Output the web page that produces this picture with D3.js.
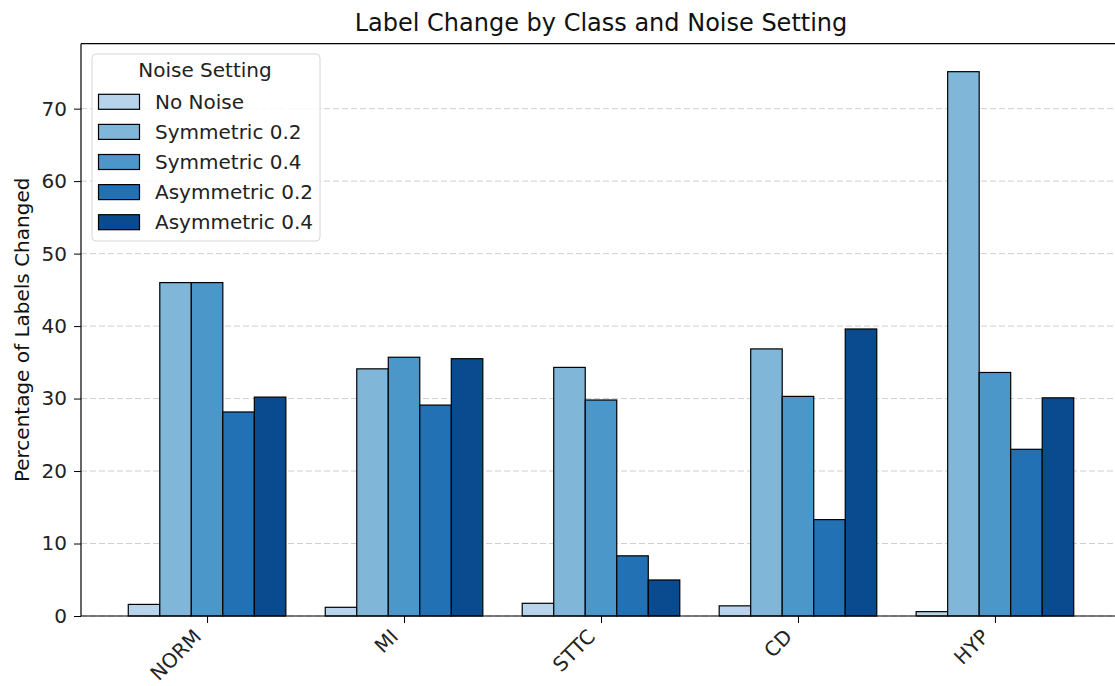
<!DOCTYPE html>
<html><head><meta charset="utf-8">
<script src="https://cdn.jsdelivr.net/npm/d3@7"></script>
<style>body{margin:0;background:#fff;} svg{display:block;font-family:"DejaVu Sans",sans-serif;}</style>
</head><body><svg id="c" width="1115" height="686"></svg>
<script>
const categories = ["NORM","MI","STTC","CD","HYP"];
const seriesNames = ["No Noise","Symmetric 0.2","Symmetric 0.4","Asymmetric 0.2","Asymmetric 0.4"];
const noNoise   = [1.6, 1.2, 1.75, 1.4, 0.6];
const sym02     = [46.0, 34.1, 34.3, 36.85, 75.1];
const sym04     = [46.0, 35.7, 29.8, 30.3, 33.6];
const asym02    = [28.15, 29.1, 8.3, 13.3, 23.0];
const asym04    = [30.2, 35.5, 4.97, 39.6, 30.1];
const yTicks = [0,10,20,30,40,50,60,70];
const colors = ["#b7d4ea","#80b7d9","#4b97c9","#2271b5","#0a4a8f"];
const series = [noNoise, sym02, sym04, asym02, asym04];

const svg = d3.select("#c");
const L = 81, R = 1121, T = 43.7, B = 616;
const barW = 0.16;
const x = d3.scaleLinear().domain([-0.64, 4.64]).range([L, R]);
const y = d3.scaleLinear().domain([0, 78.96]).range([B, T]);

// grid
svg.append("g").selectAll("line").data(yTicks).join("line")
  .attr("x1", L).attr("x2", R).attr("y1", d=>y(d)).attr("y2", d=>y(d))
  .attr("stroke", "#cfcfcf").attr("stroke-width", 1).attr("stroke-dasharray", "6,3");

// bars
series.forEach((vals, si) => {
  svg.append("g").selectAll("rect").data(vals).join("rect")
    .attr("x", (d,i)=> x(i + (si-2)*barW - barW/2))
    .attr("width", x(barW) - x(0))
    .attr("y", d=>y(d)).attr("height", d=>y(0)-y(d))
    .attr("fill", colors[si]).attr("stroke", "#000").attr("stroke-width", 1.2);
});

// axes
const ya = svg.append("g").attr("transform", `translate(${L},0)`)
  .call(d3.axisLeft(y).tickValues(yTicks).tickSize(7).tickPadding(7).tickFormat(d3.format("d")));
const xa = svg.append("g").attr("transform", `translate(0,${B})`)
  .call(d3.axisBottom(x).tickValues(d3.range(categories.length)).tickSize(7).tickFormat(i=>categories[i]));
[ya, xa].forEach(g => { g.select(".domain").remove(); g.selectAll("text").attr("font-size", 20).attr("fill","#222").attr("font-family","DejaVu Sans"); g.selectAll("line").attr("stroke","#000"); });
xa.selectAll("text").attr("text-anchor","end").attr("dy", null).attr("y", null)
  .attr("transform","translate(-9,18) rotate(-45)").attr("dominant-baseline","middle");

// spines
svg.append("line").attr("x1",L).attr("x2",L).attr("y1",T).attr("y2",B).attr("stroke","#000").attr("stroke-width",1.2);
svg.append("line").attr("x1",L).attr("x2",R).attr("y1",B).attr("y2",B).attr("stroke","#000").attr("stroke-width",1.2);
svg.append("line").attr("x1",L).attr("x2",R).attr("y1",T).attr("y2",T).attr("stroke","#000").attr("stroke-width",1.2);
svg.append("line").attr("x1",R).attr("x2",R).attr("y1",T).attr("y2",B).attr("stroke","#000").attr("stroke-width",1.2);

// title
svg.append("text").attr("x", (L+R)/2).attr("y", 31).attr("text-anchor","middle")
  .attr("font-size", 24).attr("fill","#111").text("Label Change by Class and Noise Setting");
// y label
svg.append("text").attr("transform", `translate(29,${(T+B)/2}) rotate(-90)`).attr("text-anchor","middle")
  .attr("font-size", 20).attr("fill","#111").text("Percentage of Labels Changed");

// legend
const lg = svg.append("g");
lg.append("rect").attr("x",92).attr("y",54).attr("width",228).attr("height",187).attr("rx",4)
  .attr("fill","#fff").attr("fill-opacity",0.85).attr("stroke","#d6d6d6");
lg.append("text").attr("x",205).attr("y",77).attr("text-anchor","middle").attr("font-size",20).attr("fill","#222").text("Noise Setting");
seriesNames.forEach((n,i)=>{
  const cy = 101.8 + i*30.1;
  lg.append("rect").attr("x",98.5).attr("y",cy-7.5).attr("width",41).attr("height",15)
    .attr("fill",colors[i]).attr("stroke","#000").attr("stroke-width",1.2);
  lg.append("text").attr("x",155).attr("y",cy).attr("dy","0.35em").attr("font-size",20).attr("fill","#222").text(n);
});
</script></body></html>
